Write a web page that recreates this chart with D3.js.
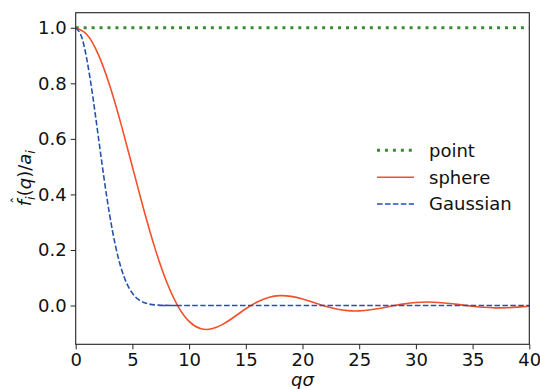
<!DOCTYPE html>
<html><head><meta charset="utf-8">
<script src="https://cdn.jsdelivr.net/npm/d3@7"></script>
<style>
html,body{margin:0;padding:0;background:#fff;}
svg{display:block;font-family:"DejaVu Sans",sans-serif;}
</style></head>
<body>
<svg id="chart" width="540" height="389"></svg>
<script>
// ---- data ----
const qPoint = [0, 40];
const fPoint = [1, 1];

const qSphere = [0,1,2,3,4,5,6,7,8,9,10,11,12,13,14,15,16,17,18,19,20,
                 21,22,23,24,25,26,27,28,29,30,31,32,33,34,35,36,37,38,39,40];
const fSphere = [1,0.9752,0.9035,0.7924,0.6531,0.4995,0.3457,0.2048,0.0871,-0.0010,-0.0571,
                 -0.0830,-0.0839,-0.0670,-0.0404,-0.0118,0.0126,0.0289,0.0354,0.0329,0.0235,
                 0.0107,-0.0024,-0.0127,-0.0185,-0.0193,-0.0155,-0.0088,-0.0010,0.0060,0.0107,
                 0.0124,0.0110,0.0073,0.0023,-0.0024,-0.0065,-0.0084,-0.0082,-0.0060,-0.0027];

const qGauss = [0,0.5,1,1.5,2,2.5,3,3.5,4,4.5,5,5.5,6,6.5,7,7.5,8,9,10,40];
const fGauss = [1,0.9692,0.8825,0.7548,0.6065,0.4578,0.3247,0.2163,0.1353,0.0796,0.0439,
                0.0228,0.0111,0.0051,0.0022,0.0009,0.0003,0.00004,0,0];

const xTicks = [0,5,10,15,20,25,30,35,40];
const yTicks = [0.0,0.2,0.4,0.6,0.8,1.0];
const seriesNames = ["point","sphere","Gaussian"];

// ---- layout ----
const svg = d3.select("#chart");
const L = 75.7, R = 529.3, T = 12.7, B = 344.3;
const x = d3.scaleLinear().domain([0,40]).range([L,R]);
const y = d3.scaleLinear().domain([-0.1397,1.0543]).range([B,T]);

svg.append("defs").append("clipPath").attr("id","clip")
  .append("rect").attr("x",L).attr("y",T).attr("width",R-L).attr("height",B-T);

const g = svg.append("g").attr("clip-path","url(#clip)");

const styles = [
  {color:"#3a8c32", width:3, dash:"3,4.95", curve:d3.curveLinear},
  {color:"#f4502a", width:1.6, dash:null, curve:d3.curveNatural},
  {color:"#2651b0", width:1.6, dash:"5.55,2.4", curve:d3.curveNatural}
];
const series = [
  qPoint.map((q,i)=>[q,fPoint[i]]),
  qSphere.map((q,i)=>[q,fSphere[i]]),
  qGauss.map((q,i)=>[q,fGauss[i]])
];
series.forEach((d,k)=>{
  const s = styles[k];
  g.append("path").datum(d)
    .attr("d", d3.line().x(p=>x(p[0])).y(p=>y(p[1])).curve(s.curve))
    .attr("fill","none").attr("stroke",s.color).attr("stroke-width",s.width)
    .attr("stroke-dasharray",s.dash);
});

// axes
const xAxis = d3.axisBottom(x).tickValues(xTicks).tickFormat(d3.format("d")).tickSizeOuter(0).tickSize(5).tickPadding(4);
const yAxis = d3.axisLeft(y).tickValues(yTicks).tickFormat(d3.format(".1f")).tickSizeOuter(0).tickSize(5).tickPadding(4);
const gx = svg.append("g").attr("transform",`translate(0,${B})`).call(xAxis);
const gy = svg.append("g").attr("transform",`translate(${L},0)`).call(yAxis);
[gx,gy].forEach(a=>{
  a.select(".domain").remove();
  a.selectAll("line").attr("stroke","#222").attr("stroke-width",1);
  a.selectAll("text").attr("font-family","DejaVu Sans").attr("font-size",18).attr("fill","#111");
});
svg.append("rect").attr("x",L).attr("y",T).attr("width",R-L).attr("height",B-T)
  .attr("fill","none").attr("stroke","#222").attr("stroke-width",1.1);

// x label
svg.append("text").attr("x",(L+R)/2).attr("y",386).attr("text-anchor","middle")
  .attr("font-size",18).attr("font-style","italic").attr("fill","#111").text("qσ");

// y label (hat drawn separately above the f)
const ylg = svg.append("g").attr("transform","translate(31,178) rotate(-90)");
const yl = ylg.append("text").attr("font-size",18).attr("fill","#111");
yl.append("tspan").attr("font-style","italic").text("f");
yl.append("tspan").attr("font-style","italic").attr("font-size",13).attr("dy",4).text("i");
yl.append("tspan").attr("dy",-4).text("(");
yl.append("tspan").attr("font-style","italic").text("q");
yl.append("tspan").text(")/");
yl.append("tspan").attr("font-style","italic").text("a");
yl.append("tspan").attr("font-style","italic").attr("font-size",13).attr("dy",4).text("i");
const w = yl.node().getBBox().width;
yl.attr("x",-w/2);
ylg.append("text").attr("x",-w/2+2.5).attr("y",-9).attr("font-size",14).attr("fill","#111")
  .text("ˆ");

// legend
const legY = [150.3, 177.3, 204];
seriesNames.forEach((name,k)=>{
  const s = styles[k];
  svg.append("line").attr("x1",377).attr("x2",414).attr("y1",legY[k]).attr("y2",legY[k])
    .attr("stroke",s.color).attr("stroke-width",s.width).attr("stroke-dasharray",s.dash);
  svg.append("text").attr("x",429).attr("y",legY[k]).attr("dy","0.36em")
    .attr("font-size",18).attr("fill","#111").text(name);
});
</script>
</body></html>
